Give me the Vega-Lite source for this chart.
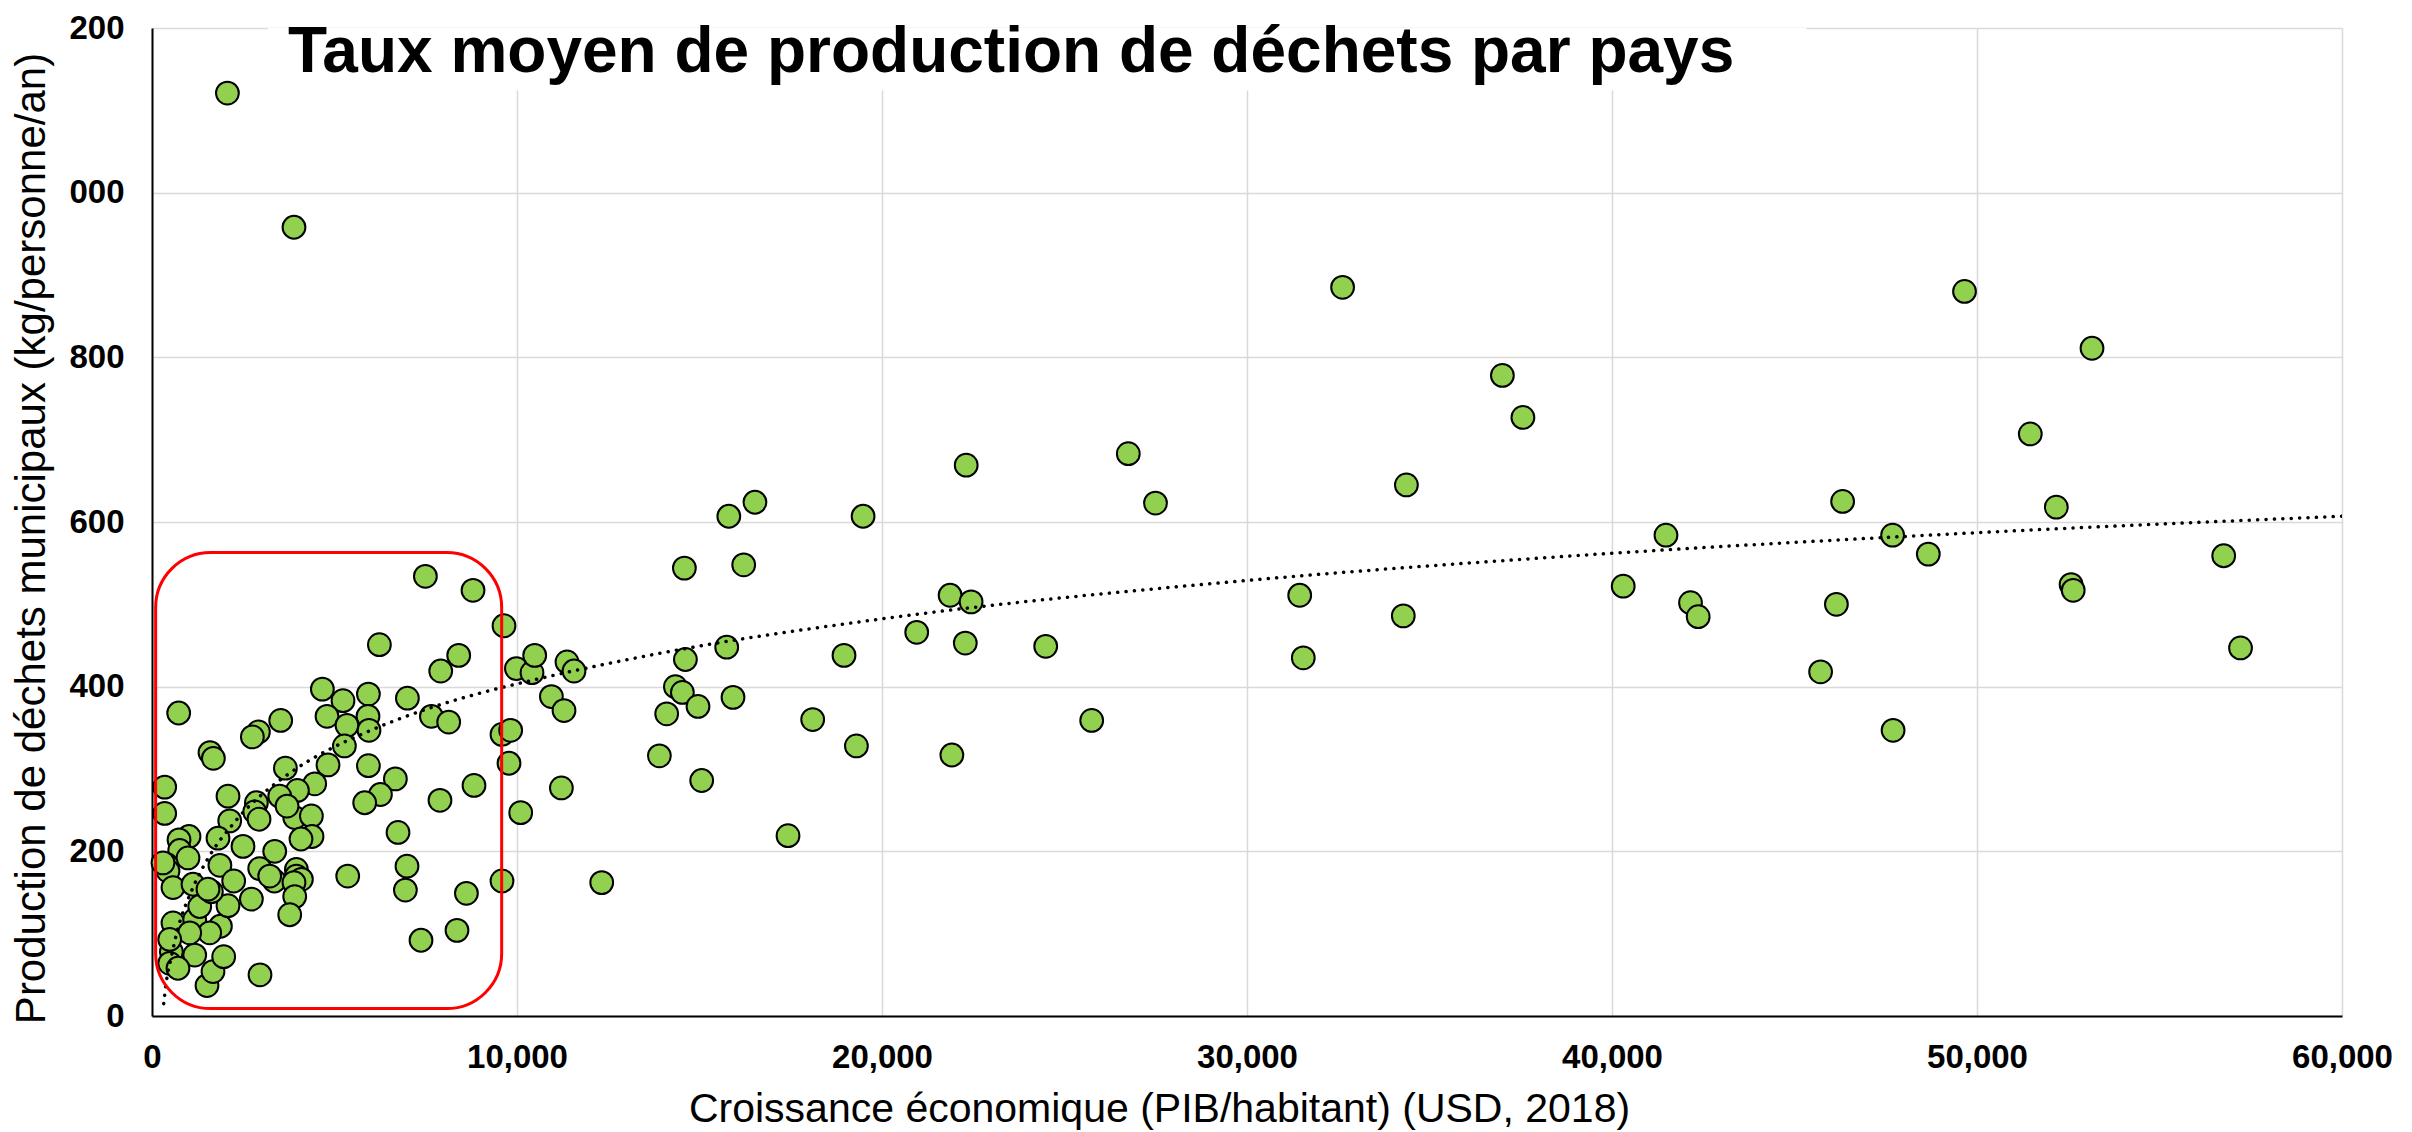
{
  "$schema": "https://vega.github.io/schema/vega-lite/v6.json",
  "width": 2190,
  "height": 988,
  "autosize": {"type": "none"},
  "padding": {"left": 152, "top": 28, "right": 70, "bottom": 116},
  "background": "white",
  "config": {
    "view": {"stroke": null},
    "font": "Liberation Sans",
    "axis": {
      "labelFont": "Liberation Sans", "labelFontSize": 33, "labelFontWeight": "bold", "labelColor": "black",
      "labelFlush": false, "ticks": false, "tickSize": 0,
      "domainColor": "black", "domainWidth": 2,
      "grid": true, "gridColor": "#d9d9d9", "gridWidth": 1.5,
      "titleFont": "Liberation Sans", "titleFontSize": 42, "titleFontWeight": "normal", "titleColor": "black"
    },
    "axisX": {
      "labelPadding": 25, "titleFontSize": 41,
      "titleX": 1007, "titleY": 105, "titleBaseline": "alphabetic", "titleAlign": "center", "titleAnchor": null
    },
    "axisY": {
      "labelPadding": 28,
      "titleAngle": -90, "titleX": -108, "titleY": 510, "titleBaseline": "alphabetic", "titleAlign": "center", "titleAnchor": null
    }
  },
  "title": {
    "text": "Taux moyen de production de déchets par pays",
    "anchor": "start",
    "frame": "group",
    "font": "Liberation Sans",
    "fontSize": 64,
    "fontWeight": "bold",
    "color": "black",
    "dx": 136,
    "offset": -73
  },
  "datasets": {
    "pays": [
      {"pib": 7490, "dechets": 534}, {"pib": 8795, "dechets": 517}, {"pib": 9644, "dechets": 474}, {"pib": 6230, "dechets": 451},
      {"pib": 8403, "dechets": 438}, {"pib": 7910, "dechets": 419}, {"pib": 731, "dechets": 368}, {"pib": 3526, "dechets": 359},
      {"pib": 2915, "dechets": 345}, {"pib": 2750, "dechets": 339}, {"pib": 4668, "dechets": 397}, {"pib": 5233, "dechets": 383},
      {"pib": 5929, "dechets": 391}, {"pib": 4795, "dechets": 364}, {"pib": 5918, "dechets": 364}, {"pib": 5342, "dechets": 353},
      {"pib": 5945, "dechets": 347}, {"pib": 6997, "dechets": 386}, {"pib": 7655, "dechets": 364}, {"pib": 8129, "dechets": 357},
      {"pib": 5271, "dechets": 328}, {"pib": 9589, "dechets": 342}, {"pib": 9827, "dechets": 347}, {"pib": 9781, "dechets": 307},
      {"pib": 1589, "dechets": 320}, {"pib": 1682, "dechets": 313}, {"pib": 3655, "dechets": 301}, {"pib": 4822, "dechets": 305},
      {"pib": 5929, "dechets": 304}, {"pib": 6668, "dechets": 288}, {"pib": 6258, "dechets": 269}, {"pib": 5827, "dechets": 259},
      {"pib": 7890, "dechets": 262}, {"pib": 8822, "dechets": 280}, {"pib": 348, "dechets": 278}, {"pib": 348, "dechets": 246},
      {"pib": 2082, "dechets": 267}, {"pib": 4458, "dechets": 282}, {"pib": 3984, "dechets": 274}, {"pib": 3499, "dechets": 267},
      {"pib": 2860, "dechets": 259}, {"pib": 2814, "dechets": 248}, {"pib": 2932, "dechets": 239}, {"pib": 2129, "dechets": 237},
      {"pib": 3910, "dechets": 241}, {"pib": 4367, "dechets": 243}, {"pib": 3700, "dechets": 255}, {"pib": 4384, "dechets": 218},
      {"pib": 4082, "dechets": 215}, {"pib": 1808, "dechets": 216}, {"pib": 2493, "dechets": 206}, {"pib": 3362, "dechets": 200},
      {"pib": 1014, "dechets": 218}, {"pib": 740, "dechets": 214}, {"pib": 759, "dechets": 201}, {"pib": 986, "dechets": 192},
      {"pib": 394, "dechets": 184}, {"pib": 438, "dechets": 176}, {"pib": 1860, "dechets": 183}, {"pib": 2238, "dechets": 164},
      {"pib": 2951, "dechets": 179}, {"pib": 3353, "dechets": 164}, {"pib": 3956, "dechets": 178}, {"pib": 3956, "dechets": 170},
      {"pib": 4093, "dechets": 166}, {"pib": 3890, "dechets": 162}, {"pib": 3910, "dechets": 145}, {"pib": 3773, "dechets": 123},
      {"pib": 5362, "dechets": 170}, {"pib": 6986, "dechets": 182}, {"pib": 6942, "dechets": 153}, {"pib": 8614, "dechets": 149},
      {"pib": 9589, "dechets": 164}, {"pib": 7370, "dechets": 92}, {"pib": 8356, "dechets": 104}, {"pib": 2959, "dechets": 50},
      {"pib": 1507, "dechets": 37}, {"pib": 1671, "dechets": 54}, {"pib": 1964, "dechets": 72}, {"pib": 1170, "dechets": 74},
      {"pib": 531, "dechets": 78}, {"pib": 485, "dechets": 64}, {"pib": 712, "dechets": 58}, {"pib": 575, "dechets": 113},
      {"pib": 1170, "dechets": 117}, {"pib": 1874, "dechets": 109}, {"pib": 1581, "dechets": 101}, {"pib": 1033, "dechets": 101},
      {"pib": 485, "dechets": 93}, {"pib": 1307, "dechets": 133}, {"pib": 2082, "dechets": 134}, {"pib": 2723, "dechets": 142},
      {"pib": 1627, "dechets": 151}, {"pib": 3225, "dechets": 170}, {"pib": 575, "dechets": 156}, {"pib": 1123, "dechets": 160},
      {"pib": 1534, "dechets": 154}, {"pib": 301, "dechets": 186}, {"pib": 6740, "dechets": 223},
      {"pib": 9984, "dechets": 422}, {"pib": 10411, "dechets": 417}, {"pib": 10485, "dechets": 438}, {"pib": 11370, "dechets": 430},
      {"pib": 11562, "dechets": 419}, {"pib": 14586, "dechets": 544}, {"pib": 16211, "dechets": 548}, {"pib": 18959, "dechets": 438},
      {"pib": 14614, "dechets": 433}, {"pib": 15745, "dechets": 448}, {"pib": 10942, "dechets": 388}, {"pib": 11288, "dechets": 371},
      {"pib": 14340, "dechets": 400}, {"pib": 14531, "dechets": 393}, {"pib": 14959, "dechets": 376}, {"pib": 15918, "dechets": 387},
      {"pib": 14101, "dechets": 367}, {"pib": 18101, "dechets": 360}, {"pib": 19299, "dechets": 328}, {"pib": 13901, "dechets": 316},
      {"pib": 15060, "dechets": 286}, {"pib": 11216, "dechets": 277}, {"pib": 10101, "dechets": 247}, {"pib": 17425, "dechets": 219},
      {"pib": 12321, "dechets": 162}, {"pib": 15803, "dechets": 607}, {"pib": 16519, "dechets": 624}, {"pib": 19482, "dechets": 607},
      {"pib": 32619, "dechets": 885}, {"pib": 36997, "dechets": 778}, {"pib": 37559, "dechets": 727}, {"pib": 26748, "dechets": 683},
      {"pib": 22307, "dechets": 669}, {"pib": 27493, "dechets": 623}, {"pib": 34367, "dechets": 645}, {"pib": 21866, "dechets": 511},
      {"pib": 22441, "dechets": 503}, {"pib": 31444, "dechets": 511}, {"pib": 34282, "dechets": 486}, {"pib": 20951, "dechets": 466},
      {"pib": 22282, "dechets": 453}, {"pib": 24485, "dechets": 449}, {"pib": 31542, "dechets": 435}, {"pib": 25745, "dechets": 359},
      {"pib": 21914, "dechets": 317}, {"pib": 49658, "dechets": 880}, {"pib": 53151, "dechets": 811}, {"pib": 51460, "dechets": 707},
      {"pib": 46318, "dechets": 625}, {"pib": 52173, "dechets": 618}, {"pib": 41479, "dechets": 584}, {"pib": 47688, "dechets": 584},
      {"pib": 48666, "dechets": 561}, {"pib": 56759, "dechets": 559}, {"pib": 40307, "dechets": 522}, {"pib": 52578, "dechets": 524},
      {"pib": 52636, "dechets": 517}, {"pib": 42151, "dechets": 502}, {"pib": 42361, "dechets": 485}, {"pib": 46148, "dechets": 500},
      {"pib": 57220, "dechets": 447}, {"pib": 45715, "dechets": 418}, {"pib": 47701, "dechets": 347},
      {"pib": 2066, "dechets": 1121}, {"pib": 3890, "dechets": 958}
    ],
    "tendance": [
      {"pib": 320, "dechets": 15}, {"pib": 394, "dechets": 42}, {"pib": 531, "dechets": 72}, {"pib": 668, "dechets": 99},
      {"pib": 1123, "dechets": 156}, {"pib": 1490, "dechets": 188}, {"pib": 2293, "dechets": 237}, {"pib": 3773, "dechets": 295},
      {"pib": 4868, "dechets": 324}, {"pib": 5786, "dechets": 343}, {"pib": 7608, "dechets": 374}, {"pib": 8978, "dechets": 392},
      {"pib": 10348, "dechets": 407}, {"pib": 14458, "dechets": 445}, {"pib": 19937, "dechets": 482}, {"pib": 30000, "dechets": 529},
      {"pib": 38293, "dechets": 557}, {"pib": 50000, "dechets": 587}, {"pib": 60000, "dechets": 607}
    ],
    "cadre": [{"x_debut": 100, "x_fin": 9580, "y_bas": 9, "y_haut": 563}],
    "masque": [{"x_debut": 3170, "x_fin": 45334, "y_bas": 1124, "y_haut": 1200}]
  },
  "layer": [
    {
      "data": {"name": "masque"},
      "mark": {"type": "rect", "fill": "white", "strokeWidth": 0},
      "encoding": {
        "x": {"field": "x_debut", "type": "quantitative", "title": "Croissance économique (PIB/habitant) (USD, 2018)",
              "scale": {"domain": [0, 60000], "nice": false, "zero": true},
              "axis": {"values": [0, 10000, 20000, 30000, 40000, 50000, 60000], "format": ",.0f"}},
        "x2": {"field": "x_fin"},
        "y": {"field": "y_bas", "type": "quantitative", "title": "Production de déchets municipaux (kg/personne/an)",
              "scale": {"domain": [0, 1200], "nice": false},
              "axis": {"values": [0, 200, 400, 600, 800, 1000, 1200],
                       "labelExpr": "datum.value >= 1000 ? slice(format(datum.value, ',.0f'), 2) : format(datum.value, ',.0f')"}},
        "y2": {"field": "y_haut"}
      }
    },
    {
      "data": {"name": "pays"},
      "mark": {"type": "circle", "fill": "#92D050", "stroke": "black", "strokeWidth": 2, "size": 520, "opacity": 1, "fillOpacity": 1},
      "encoding": {
        "x": {"field": "pib", "type": "quantitative", "title": "Croissance économique (PIB/habitant) (USD, 2018)",
              "axis": {"values": [0, 10000, 20000, 30000, 40000, 50000, 60000], "format": ",.0f"}},
        "y": {"field": "dechets", "type": "quantitative", "title": "Production de déchets municipaux (kg/personne/an)",
              "axis": {"values": [0, 200, 400, 600, 800, 1000, 1200],
                       "labelExpr": "datum.value >= 1000 ? slice(format(datum.value, ',.0f'), 2) : format(datum.value, ',.0f')"}}
      }
    },
    {
      "data": {"name": "tendance"},
      "mark": {"type": "line", "stroke": "black", "strokeWidth": 3.5, "strokeDash": [0.1, 8.3], "strokeCap": "round", "interpolate": "monotone", "clip": true},
      "encoding": {
        "x": {"field": "pib", "type": "quantitative", "title": "Croissance économique (PIB/habitant) (USD, 2018)",
              "axis": {"values": [0, 10000, 20000, 30000, 40000, 50000, 60000], "format": ",.0f"}},
        "y": {"field": "dechets", "type": "quantitative", "title": "Production de déchets municipaux (kg/personne/an)",
              "axis": {"values": [0, 200, 400, 600, 800, 1000, 1200],
                       "labelExpr": "datum.value >= 1000 ? slice(format(datum.value, ',.0f'), 2) : format(datum.value, ',.0f')"}}
      }
    },
    {
      "data": {"name": "cadre"},
      "mark": {"type": "rect", "fill": "transparent", "stroke": "#ff0000", "strokeWidth": 3, "cornerRadius": 55},
      "encoding": {
        "x": {"field": "x_debut", "type": "quantitative", "title": "Croissance économique (PIB/habitant) (USD, 2018)",
              "axis": {"values": [0, 10000, 20000, 30000, 40000, 50000, 60000], "format": ",.0f"}},
        "x2": {"field": "x_fin"},
        "y": {"field": "y_bas", "type": "quantitative", "title": "Production de déchets municipaux (kg/personne/an)",
              "axis": {"values": [0, 200, 400, 600, 800, 1000, 1200],
                       "labelExpr": "datum.value >= 1000 ? slice(format(datum.value, ',.0f'), 2) : format(datum.value, ',.0f')"}},
        "y2": {"field": "y_haut"}
      }
    }
  ]
}
